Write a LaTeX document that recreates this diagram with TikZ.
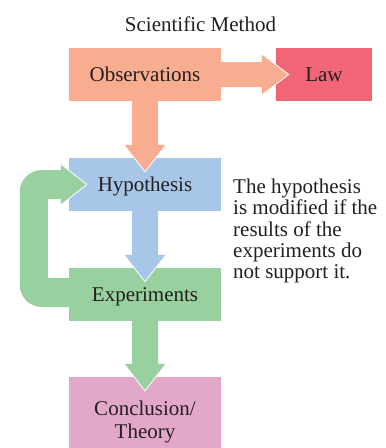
\documentclass[tikz,border=0pt]{standalone}
\usepackage{fontspec}
\setmainfont{Liberation Serif}
\usetikzlibrary{calc}
\definecolor{salmonc}{RGB}{248,173,145}
\definecolor{lawc}{RGB}{240,102,118}
\definecolor{bluec}{RGB}{168,198,232}
\definecolor{greenc}{RGB}{152,208,160}
\definecolor{pinkc}{RGB}{226,168,202}
\definecolor{inkc}{RGB}{35,31,32}
\begin{document}
\begin{tikzpicture}[x=1pt,y=-1pt,
  box/.style={draw=none, inner sep=0pt, minimum width=152pt, minimum height=53pt,
    text height=14pt, text depth=0pt, font=\fontsize{21}{21.3}\selectfont, text=inkc},
  txt/.style={inner sep=0pt, font=\fontsize{21}{21.3}\selectfont, text=inkc},
  headline/.style={draw=white, line width=0.8pt, line join=miter}]
\useasboundingbox (0,0) rectangle (386,448);
\node[txt, anchor=base] (title) at (200.5,31) {Scientific Method};
\node[box, fill=salmonc] (obs) at (145,74.5) {Observations};
\node[box, fill=lawc, minimum width=96pt] (law) at (324,74.5) {Law};
\node[box, fill=bluec] (hyp) at (145,184.5) {Hypothesis};
\node[box, fill=greenc] (exp) at (145,294.5) {Experiments};
\node[box, fill=pinkc, minimum height=71pt] (conc) at (145,412.5) {};
\node[txt, anchor=north, align=center, font=\fontsize{21}{23}\selectfont] (conctext) at (145,400.7) {Conclusion/\\Theory};
\node[txt, anchor=north west, align=left] (note) at (233,178.7) {The hypothesis\\is modified if the\\results of the\\experiments do\\not support it.};
% Observations -> Hypothesis
\fill[salmonc] ($(obs.south)+(-13,-1)$) -- ($(hyp.north)+(-13,-13)$) -- ($(hyp.north)+(-21,-13)$) -- ($(hyp.north)+(0,14)$) -- ($(hyp.north)+(21,-13)$) -- ($(hyp.north)+(13,-13)$) -- ($(obs.south)+(13,-1)$) -- cycle;
\draw[headline] ($(hyp.north)+(-21,-13)$) -- ($(hyp.north)+(0,14)$) -- ($(hyp.north)+(21,-13)$);
% Observations -> Law
\fill[salmonc] ($(obs.east)+(-1,-12.5)$) -- ($(law.west)+(-14,-12.5)$) -- ($(law.west)+(-14,-20.5)$) -- ($(law.west)+(13,0)$) -- ($(law.west)+(-14,20.5)$) -- ($(law.west)+(-14,12.5)$) -- ($(obs.east)+(-1,12.5)$) -- cycle;
\draw[headline] ($(law.west)+(-14,-20.5)$) -- ($(law.west)+(13,0)$) -- ($(law.west)+(-14,20.5)$);
% Hypothesis -> Experiments
\fill[bluec] ($(hyp.south)+(-13,-1)$) -- ($(exp.north)+(-13,-13)$) -- ($(exp.north)+(-21,-13)$) -- ($(exp.north)+(0,14)$) -- ($(exp.north)+(21,-13)$) -- ($(exp.north)+(13,-13)$) -- ($(hyp.south)+(13,-1)$) -- cycle;
\draw[headline] ($(exp.north)+(-21,-13)$) -- ($(exp.north)+(0,14)$) -- ($(exp.north)+(21,-13)$);
% Experiments -> Conclusion
\fill[greenc] ($(exp.south)+(-13,-1)$) -- ($(conc.north)+(-13,-13)$) -- ($(conc.north)+(-21,-13)$) -- ($(conc.north)+(0,14)$) -- ($(conc.north)+(21,-13)$) -- ($(conc.north)+(13,-13)$) -- ($(exp.south)+(13,-1)$) -- cycle;
\draw[headline] ($(conc.north)+(-21,-13)$) -- ($(conc.north)+(0,14)$) -- ($(conc.north)+(21,-13)$);
% Experiments -> Hypothesis (loop)
\fill[greenc] ($(exp.west)+(1,-16.5)$) -- ($(exp.west)+(-21,-16.5)$) -- ($(hyp.west)+(-21,14.5)$) -- ($(hyp.west)+(-8,14.5)$) -- ($(hyp.west)+(-8,20.5)$) -- ($(hyp.west)+(18,0)$) -- ($(hyp.west)+(-8,-20.5)$) -- ($(hyp.west)+(-8,-14.5)$)
  [rounded corners=22pt] -- ($(hyp.west)+(-49,-14.5)$) -- ($(exp.west)+(-49,12.5)$) [sharp corners] -- ($(exp.west)+(1,12.5)$) -- cycle;
\draw[headline] ($(hyp.west)+(-8,-20.5)$) -- ($(hyp.west)+(18,0)$) -- ($(hyp.west)+(-8,20.5)$);
\end{tikzpicture}
\end{document}
